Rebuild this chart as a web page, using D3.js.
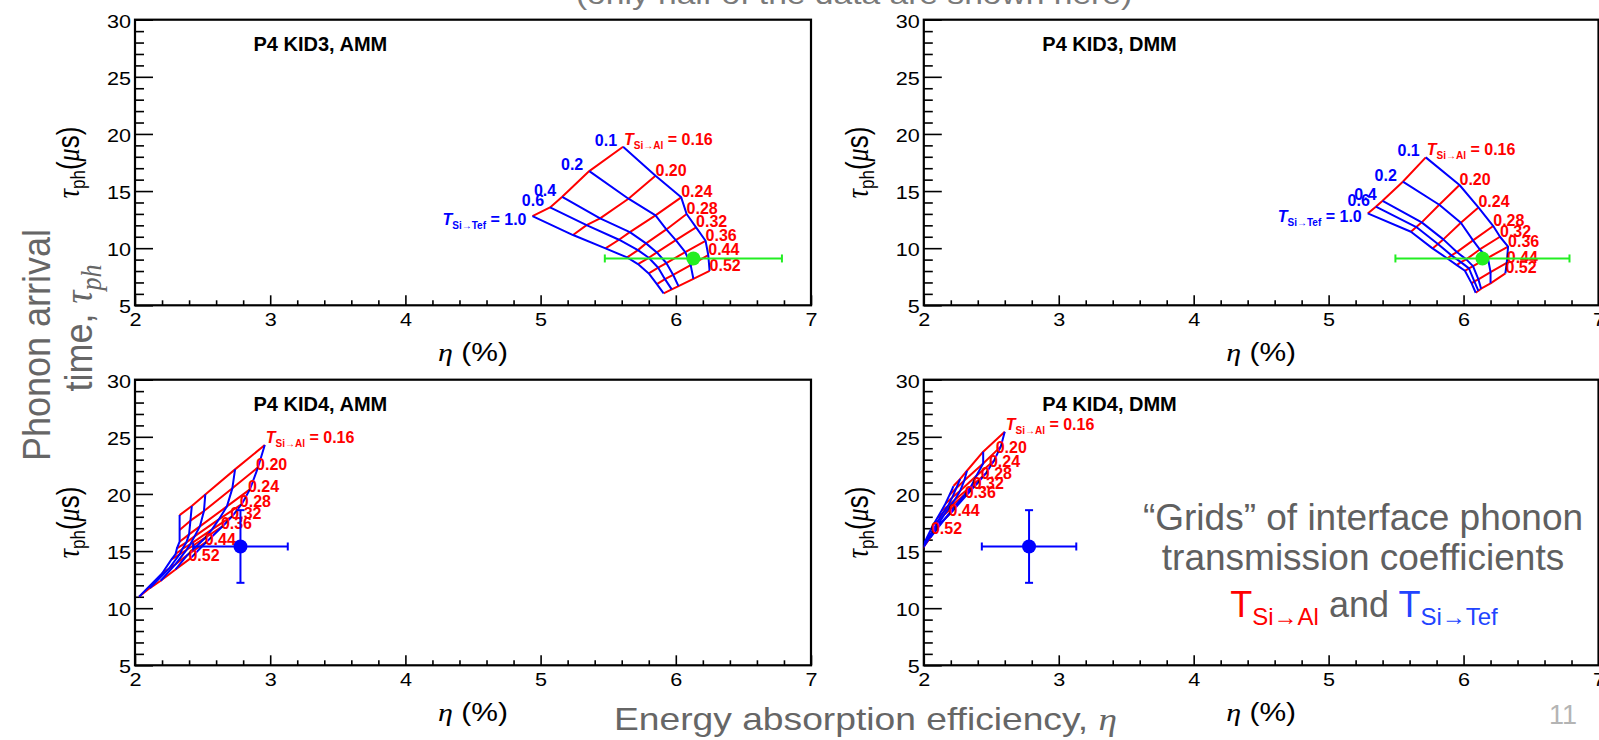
<!DOCTYPE html>
<html><head><meta charset="utf-8">
<script src="https://cdn.jsdelivr.net/npm/d3@7"></script>
<style>
html,body{margin:0;padding:0;background:#fff;overflow:hidden}
svg{display:block}
text{font-family:"Liberation Sans",Arial,Helvetica,sans-serif}
</style></head><body>
<svg id="chart" width="1599" height="740"></svg>
<script>
// ------------------------- data -------------------------
const tefValues = [0.1, 0.2, 0.4, 0.6, 1.0];
const tefLabels = ["0.1", "0.2", "0.4", "0.6", "1.0"];
const alValues = [0.16, 0.20, 0.24, 0.28, 0.32, 0.36, 0.44, 0.52];
const alLabels = ["0.16", "0.20", "0.24", "0.28", "0.32", "0.36", "0.44", "0.52"];
const panelTitles = ["P4 KID3, AMM", "P4 KID3, DMM", "P4 KID4, AMM", "P4 KID4, DMM"];
const xTicks = [2, 3, 4, 5, 6, 7];
const xTickLabels = ["2", "3", "4", "5", "6", "7"];
const yTicks = [5, 10, 15, 20, 25, 30];
const yTickLabels = ["5", "10", "15", "20", "25", "30"];

// grid nodes: rows = T(Si->Tef) 0.1,0.2,0.4,0.6,1.0 ; columns = T(Si->Al) 0.16 ... 0.52
const etaKid3Amm = [
  [5.61, 5.85, 6.04, 6.08, 6.15, 6.22, 6.24, 6.25],
  [5.36, 5.65, 5.85, 5.93, 6.00, 6.07, 6.11, 6.13],
  [5.16, 5.44, 5.66, 5.78, 5.86, 5.93, 5.98, 6.02],
  [5.07, 5.34, 5.58, 5.72, 5.80, 5.87, 5.92, 5.97],
  [4.94, 5.24, 5.48, 5.64, 5.72, 5.80, 5.86, 5.91]];
const tauKid3Amm = [
  [18.88, 16.34, 14.45, 12.99, 11.82, 10.65, 9.40, 8.02],
  [16.75, 14.33, 12.87, 11.64, 10.71, 9.66, 8.52, 7.32],
  [14.50, 12.61, 11.41, 10.42, 9.63, 8.70, 7.67, 6.68],
  [13.57, 12.02, 10.74, 9.83, 9.16, 8.29, 7.29, 6.39],
  [12.81, 11.15, 9.98, 9.19, 8.61, 7.79, 6.86, 6.04]];
const etaKid3Dmm = [
  [5.72, 5.97, 6.11, 6.22, 6.27, 6.33, 6.32, 6.31],
  [5.55, 5.82, 5.98, 6.07, 6.12, 6.18, 6.20, 6.20],
  [5.40, 5.69, 5.85, 5.95, 6.02, 6.07, 6.11, 6.13],
  [5.35, 5.65, 5.81, 5.91, 5.98, 6.04, 6.08, 6.11],
  [5.29, 5.61, 5.77, 5.88, 5.95, 6.01, 6.06, 6.09]];
const tauKid3Dmm = [
  [17.95, 15.53, 13.57, 11.94, 11.00, 10.13, 8.72, 7.79],
  [15.82, 13.80, 12.23, 10.68, 9.89, 9.16, 7.91, 6.92],
  [14.15, 12.26, 10.77, 9.66, 9.02, 8.43, 7.27, 6.45],
  [13.63, 11.85, 10.36, 9.37, 8.78, 8.23, 7.09, 6.27],
  [13.04, 11.44, 9.98, 9.10, 8.52, 8.02, 6.92, 6.10]];
const etaKid4Amm = [
  [2.96, 2.91, 2.85, 2.79, 2.72, 2.65, 2.53, 2.41],
  [2.74, 2.72, 2.68, 2.62, 2.57, 2.52, 2.39, 2.30],
  [2.52, 2.51, 2.48, 2.44, 2.41, 2.38, 2.30, 2.19],
  [2.42, 2.41, 2.40, 2.38, 2.35, 2.33, 2.25, 2.11],
  [2.33, 2.33, 2.33, 2.31, 2.30, 2.27, 2.20, 2.03]];
const tauKid4Amm = [
  [24.28, 22.33, 20.40, 19.12, 18.06, 17.19, 15.82, 14.36],
  [22.15, 20.49, 18.91, 17.77, 16.90, 16.17, 14.68, 13.39],
  [19.96, 18.50, 17.16, 16.28, 15.61, 15.09, 13.86, 12.40],
  [18.94, 17.66, 16.46, 15.76, 15.18, 14.71, 13.45, 11.76],
  [18.15, 16.84, 15.82, 15.23, 14.74, 14.27, 13.04, 11.00]];
const etaKid4Dmm = [
  [2.60, 2.57, 2.52, 2.46, 2.40, 2.34, 2.22, 2.09],
  [2.44, 2.44, 2.39, 2.35, 2.30, 2.25, 2.15, 2.05],
  [2.32, 2.30, 2.27, 2.23, 2.19, 2.15, 2.08, 2.00],
  [2.27, 2.24, 2.21, 2.18, 2.14, 2.11, 2.05, 1.98],
  [2.22, 2.19, 2.16, 2.13, 2.10, 2.07, 2.02, 1.96]];
const tauKid4Dmm = [
  [25.45, 24.14, 22.91, 21.80, 20.98, 20.20, 18.60, 17.00],
  [23.70, 22.66, 21.59, 20.65, 19.90, 19.19, 17.73, 16.20],
  [22.03, 21.17, 20.28, 19.49, 18.82, 18.17, 16.85, 15.39],
  [21.31, 20.49, 19.68, 18.96, 18.33, 17.71, 16.45, 15.02],
  [20.69, 19.90, 19.15, 18.50, 17.90, 17.30, 16.10, 14.70]];

// measured points (one per panel)
const measEta = [6.13, 6.14, 2.78, 2.78];
const measEtaErr = [0.655, 0.645, 0.35, 0.35];
const measTau = [9.10, 9.10, 15.40, 15.40];
const measTauErr = [0.0, 0.0, 3.18, 3.18];

// ------------------------- layout / style -------------------------
const svg = d3.select("#chart");
svg.append("rect").attr("width", 1599).attr("height", 740).attr("fill", "#fff");

const boxes = [
  {l: 135, r: 811, t: 19.7, b: 305.3},
  {l: 923.8, r: 1598.5, t: 19.7, b: 305.3},
  {l: 135, r: 811, t: 379.7, b: 665.3},
  {l: 923.8, r: 1598.5, t: 379.7, b: 665.3}
];
const grids = [[etaKid3Amm, tauKid3Amm], [etaKid3Dmm, tauKid3Dmm], [etaKid4Amm, tauKid4Amm], [etaKid4Dmm, tauKid4Dmm]];
const RED = "#ff0000", BLUE = "#0000ff";
const labelOffsets = [[0, 0], [0, 0], [-2, 3], [-5, 6]];
const showTefLabels = [true, true, false, false];
const SANS = "Liberation Sans, Arial, Helvetica, sans-serif";
const SERIF = "Liberation Serif, Times New Roman, serif";

const xMinor = d3.range(2, 7.0001, 0.2).filter(v => Math.abs(v - Math.round(v)) > 1e-6);
const yMinor = d3.range(5, 30.001, 1).filter(v => Math.round(v) % 5 !== 0);

function styleAxis(s, fs) {
  s.select(".domain").remove();
  s.attr("font-size", fs).attr("font-family", SANS);
  s.selectAll("line").attr("stroke", "#000").attr("stroke-width", 1.6);
}

function tLabel(sel, sub, rest) {
  sel.append("tspan").attr("font-style", "italic").text("T");
  sel.append("tspan").attr("font-size", 10).attr("dy", 4).text(sub);
  sel.append("tspan").attr("font-size", 16).attr("dy", -4).text(rest);
}

boxes.forEach((p, k) => {
  const g = svg.append("g");
  const x = d3.scaleLinear().domain([2, 7]).range([p.l, p.r]);
  const y = d3.scaleLinear().domain([5, 30]).range([p.b, p.t]);

  svg.append("clipPath").attr("id", "clip" + k).append("rect")
    .attr("x", p.l).attr("y", p.t).attr("width", p.r - p.l).attr("height", p.b - p.t);

  // axes ticks (inside)
  g.append("g").attr("transform", `translate(0,${p.b})`)
    .call(d3.axisBottom(x).tickValues(xMinor).tickSize(-5).tickFormat(""))
    .call(s => styleAxis(s, 18));
  const xa = g.append("g").attr("transform", `translate(0,${p.b})`)
    .call(d3.axisBottom(x).tickValues(xTicks).tickSize(-10).tickPadding(8).tickFormat((d, i) => xTickLabels[i]))
    .call(s => styleAxis(s, 18));
  xa.selectAll("text").attr("transform", "scale(1.2,1)");
  g.append("g").attr("transform", `translate(${p.l},0)`)
    .call(d3.axisLeft(y).tickValues(yMinor).tickSize(-9).tickFormat(""))
    .call(s => styleAxis(s, 18));
  const ya = g.append("g").attr("transform", `translate(${p.l},0)`)
    .call(d3.axisLeft(y).tickValues(yTicks).tickSize(-18).tickPadding(3.3).tickFormat((d, i) => yTickLabels[i]))
    .call(s => styleAxis(s, 18));
  ya.selectAll("text").attr("transform", "scale(1.2,1)").attr("dy", "0.42em");

  // frame
  g.append("rect").attr("x", p.l).attr("y", p.t).attr("width", p.r - p.l).attr("height", p.b - p.t)
    .attr("fill", "none").attr("stroke", "#000").attr("stroke-width", 2.2);

  // axis titles
  const cx = (p.l + p.r) / 2;
  const xt = g.append("text").attr("transform", `translate(${cx},${p.b + 56}) scale(1.2,1)`)
    .attr("text-anchor", "middle").attr("font-size", 25);
  xt.append("tspan").attr("font-family", SERIF).attr("font-style", "italic").text("η");
  xt.append("tspan").text(" (%)");

  const yt = g.append("text").attr("transform", `translate(${p.l - 56},${(p.t + p.b) / 2}) scale(1.2,1) rotate(-90)`)
    .attr("text-anchor", "middle").attr("font-size", 26);
  yt.append("tspan").attr("font-family", SERIF).attr("font-style", "italic").text("τ");
  yt.append("tspan").attr("font-size", 17).attr("dy", 5).text("ph");
  yt.append("tspan").attr("dy", -5).text("(");
  yt.append("tspan").attr("font-family", SERIF).attr("font-style", "italic").text("μ");
  yt.append("tspan").text("s)");

  // title
  g.append("text").attr("x", p.l + 118.5).attr("y", p.t + 31.3)
    .attr("font-size", 20).attr("font-weight", "bold").attr("fill", "#000").text(panelTitles[k]);

  // grid
  const [eta, tau] = grids[k];
  const line = d3.line().x(d => x(d[0])).y(d => y(d[1]));
  const gg = g.append("g").attr("clip-path", `url(#clip${k})`).attr("fill", "none").attr("stroke-width", 2)
    .attr("stroke-linejoin", "round");
  alValues.forEach((a, j) => {
    const pts = tefValues.map((t, i) => [eta[i][j], tau[i][j]]);
    gg.append("path").attr("d", line(pts)).attr("stroke", RED);
  });
  tefValues.forEach((t, i) => {
    const pts = alValues.map((a, j) => [eta[i][j], tau[i][j]]);
    gg.append("path").attr("d", line(pts)).attr("stroke", BLUE);
  });

  // labels of T(Si->Al) (red), at the T(Si->Tef)=0.1 end
  const lg = g.append("g").attr("font-size", 16).attr("font-weight", "bold");
  alValues.forEach((a, j) => {
    const nx = x(eta[0][j]), ny = y(tau[0][j]);
    if (j === 0) {
      const t = lg.append("text").attr("x", nx + 1).attr("y", ny - 2).attr("fill", RED);
      tLabel(t, "Si→Al", " = " + alLabels[j]);
    } else {
      lg.append("text").attr("x", nx + labelOffsets[k][0]).attr("y", ny + labelOffsets[k][1])
        .attr("fill", RED).text(alLabels[j]);
    }
  });
  // labels of T(Si->Tef) (blue), at the T(Si->Al)=0.16 end
  if (showTefLabels[k]) {
    tefValues.forEach((t, i) => {
      const nx = x(eta[i][0]), ny = y(tau[i][0]);
      if (i === tefValues.length - 1) {
        const tt = lg.append("text").attr("x", nx - 6).attr("y", ny + 9).attr("text-anchor", "end").attr("fill", BLUE);
        tLabel(tt, "Si→Tef", " = " + tefLabels[i]);
      } else {
        lg.append("text").attr("x", nx - 6).attr("y", ny - 1).attr("text-anchor", "end")
          .attr("fill", BLUE).text(tefLabels[i]);
      }
    });
  }

  // measured point with error bars
  const col = k < 2 ? "#22ee22" : BLUE;
  const mg = g.append("g").attr("stroke", col).attr("stroke-width", 2);
  const mx = x(measEta[k]), my = y(measTau[k]);
  const x0 = x(measEta[k] - measEtaErr[k]), x1 = x(measEta[k] + measEtaErr[k]);
  mg.append("line").attr("x1", x0).attr("x2", x1).attr("y1", my).attr("y2", my);
  [x0, x1].forEach(v => mg.append("line").attr("x1", v).attr("x2", v).attr("y1", my - 4).attr("y2", my + 4));
  if (measTauErr[k] > 0) {
    const y0 = y(measTau[k] - measTauErr[k]), y1 = y(measTau[k] + measTauErr[k]);
    mg.append("line").attr("x1", mx).attr("x2", mx).attr("y1", y0).attr("y2", y1);
    [y0, y1].forEach(v => mg.append("line").attr("x1", mx - 4).attr("x2", mx + 4).attr("y1", v).attr("y2", v));
  }
  g.append("circle").attr("cx", mx).attr("cy", my).attr("r", 7).attr("fill", col);
});

// ------------------------- slide texts -------------------------
const GRAY = "#666666";
svg.append("text").attr("transform", "translate(854,4) scale(1.2,1)").attr("text-anchor", "middle")
  .attr("font-size", 28).attr("fill", "#7a7a7a").text("(only half of the data are shown here)");

svg.append("text").attr("transform", "translate(50,345) scale(1.1,1) rotate(-90)").attr("text-anchor", "middle")
  .attr("font-size", 36).attr("fill", GRAY).text("Phonon arrival");
const l2 = svg.append("text").attr("transform", "translate(92,328) scale(1.1,1) rotate(-90)").attr("text-anchor", "middle")
  .attr("font-size", 36).attr("fill", GRAY);
l2.append("tspan").text("time, ");
l2.append("tspan").attr("font-family", SERIF).attr("font-style", "italic").text("τ");
l2.append("tspan").attr("font-family", SERIF).attr("font-style", "italic").attr("font-size", 26).attr("dy", 8).text("ph");

const bl = svg.append("text").attr("transform", "translate(614,730) scale(1.2,1)")
  .attr("font-size", 31).attr("fill", GRAY);
bl.append("tspan").text("Energy absorption efficiency, ");
bl.append("tspan").attr("font-family", SERIF).attr("font-style", "italic").text("η");

const rb = svg.append("g").attr("font-size", 37).attr("fill", "#606060").attr("text-anchor", "middle");
rb.append("text").attr("x", 1363).attr("y", 530).text("“Grids” of interface phonon");
rb.append("text").attr("x", 1363).attr("y", 570).text("transmission coefficients");
const l3 = rb.append("text").attr("x", 1364).attr("y", 617).attr("font-size", 36);
l3.append("tspan").attr("fill", "#ff0000").text("T");
l3.append("tspan").attr("fill", "#ff0000").attr("font-size", 24).attr("dy", 8).text("Si→Al");
l3.append("tspan").attr("fill", "#606060").attr("dy", -8).text(" and ");
l3.append("tspan").attr("fill", "#2244ff").text("T");
l3.append("tspan").attr("fill", "#2244ff").attr("font-size", 24).attr("dy", 8).text("Si→Tef");

svg.append("text").attr("x", 1549).attr("y", 724).attr("font-size", 27).attr("fill", "#b4b4b4").text("11");
</script>
</body></html>
